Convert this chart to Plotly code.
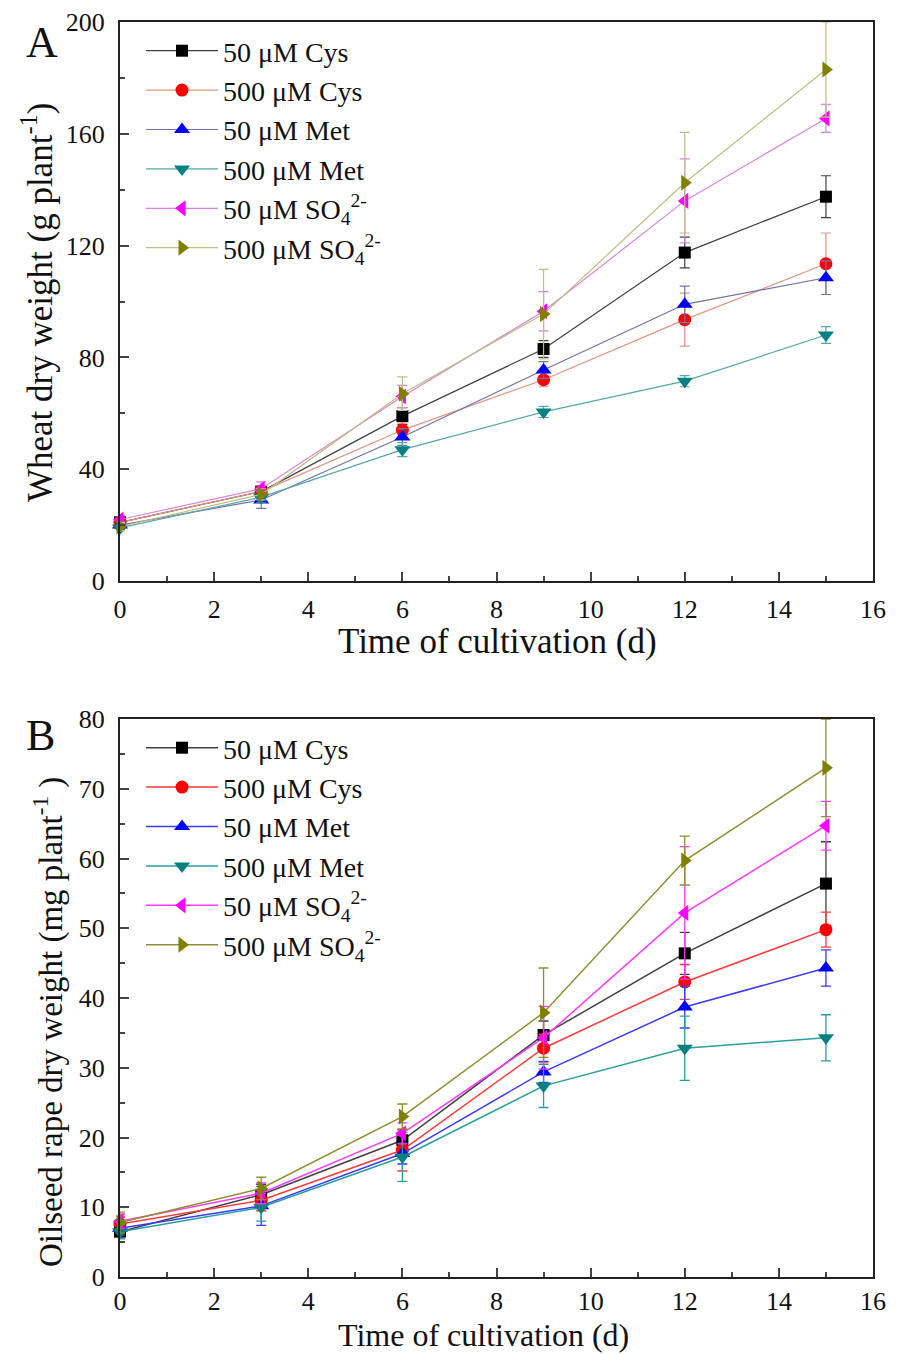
import plotly.graph_objects as go

days = [0, 3, 6, 9, 12, 15]

names = ["50 μM Cys", "500 μM Cys", "50 μM Met", "500 μM Met",
         "50 μM SO<sub>4</sub><sup>2-</sup>", "500 μM SO<sub>4</sub><sup>2-</sup>"]

# Panel A: wheat dry weight (g plant-1)
cys50_A = [21, 32, 59, 83, 117.5, 137.5]
cys50_A_err = [1.5, 2, 3, 3, 5.5, 7.5]
cys500_A = [21, 32, 54, 72, 93.5, 113.5]
cys500_A_err = [1.5, 2, 2.5, 2.5, 9.5, 11]
met50_A = [20, 29, 51.5, 75.5, 99, 108.5]
met50_A_err = [1.5, 3, 3, 3, 6.5, 6]
met500_A = [19, 30, 47, 60.5, 71.5, 88]
met500_A_err = [1, 2, 2.5, 2, 2, 3]
so450_A = [22, 33, 66, 96.5, 136, 165.5]
so450_A_err = [1.5, 2.5, 4, 7, 15, 5]
so4500_A = [19.5, 31, 67, 95.5, 142.5, 183]
so4500_A_err = [1.5, 2, 6, 16, 18, 17]

# Panel B: oilseed rape dry weight (mg plant-1)
cys50_B = [6.5, 11.8, 19.6, 34.7, 46.4, 56.4]
cys50_B_err = [1, 1.5, 1.5, 2, 3, 6]
cys500_B = [7.6, 11.0, 18.2, 32.8, 42.3, 49.8]
cys500_B_err = [1, 1.5, 3, 2, 2.5, 2.5]
met50_B = [7.0, 10.2, 17.7, 29.4, 38.7, 44.3]
met50_B_err = [1, 2.8, 1.5, 1.5, 3, 2.6]
met500_B = [6.5, 10.0, 17.2, 27.4, 32.8, 34.3]
met500_B_err = [1, 2, 3.5, 3.1, 4.6, 3.3]
so450_B = [8.0, 12.0, 20.6, 34.3, 52.2, 64.7]
so450_B_err = [1, 1.5, 1.5, 4.5, 9.5, 3.5]
so4500_B = [7.8, 12.7, 23.0, 37.9, 59.7, 73.0]
so4500_B_err = [1.5, 1.6, 1.8, 6.4, 3.5, 7.0]

series_A = [(cys50_A, cys50_A_err), (cys500_A, cys500_A_err), (met50_A, met50_A_err),
            (met500_A, met500_A_err), (so450_A, so450_A_err), (so4500_A, so4500_A_err)]
series_B = [(cys50_B, cys50_B_err), (cys500_B, cys500_B_err), (met50_B, met50_B_err),
            (met500_B, met500_B_err), (so450_B, so450_B_err), (so4500_B, so4500_B_err)]

symbols = ["square", "circle", "triangle-up", "triangle-down", "triangle-left", "triangle-right"]
marker_colors = ["#000000", "#ff0000", "#0000ff", "#008080", "#ff00ff", "#808000"]
line_colors_A = ["#404040", "#e0957e", "#7272aa", "#55a8a8", "#d884d8", "#bdbd85"]
line_colors_B = ["#404040", "#ff3a3a", "#3a3aff", "#2a9e9e", "#ff3aff", "#8e8e30"]
sizes = [12, 13, 14, 14, 14, 14]

FONT = "Liberation Serif, Times New Roman, serif"

# The page body has an 8px margin: figure is sized to fit the window exactly.
OFF = 8
W, H = 900 - OFF, 1354 - OFF


def px(x):
    return (x - OFF) / W


def py(y):
    return 1 - (y - OFF) / H


fig = go.Figure()

for i, (vals, err) in enumerate(series_A):
    fig.add_trace(go.Scatter(
        x=days, y=vals, name=names[i], mode="lines+markers",
        xaxis="x", yaxis="y", legend="legend",
        line=dict(color=line_colors_A[i], width=1.2),
        marker=dict(symbol=symbols[i], color=marker_colors[i], size=sizes[i]),
        error_y=dict(type="data", array=err, color=line_colors_A[i], thickness=1.2, width=5),
        cliponaxis=False,
    ))

for i, (vals, err) in enumerate(series_B):
    fig.add_trace(go.Scatter(
        x=days, y=vals, name=names[i], mode="lines+markers",
        xaxis="x2", yaxis="y2", legend="legend2",
        line=dict(color=line_colors_B[i], width=1.5),
        marker=dict(symbol=symbols[i], color=marker_colors[i], size=sizes[i]),
        error_y=dict(type="data", array=err, color=line_colors_B[i], thickness=1.3, width=5),
        cliponaxis=False,
    ))

xdom = [px(120), px(873)]
ydomA = [py(581), py(22)]
ydomB = [py(1277), py(719)]

TICKFONT = dict(family=FONT, size=26, color="#111")


def xax(dom, anchor, standoff):
    return dict(domain=dom, anchor=anchor, range=[0, 16], dtick=2, tick0=0, ticks="inside",
                ticklen=9, tickwidth=2, showline=True, linewidth=2, linecolor="#222",
                mirror=True, showgrid=False, zeroline=False, tickfont=TICKFONT,
                automargin=False, ticklabelstandoff=standoff,
                minor=dict(ticks="inside", ticklen=5, tickwidth=1.5, dtick=1, tick0=0,
                           showgrid=False))


def yax(dom, anchor, rng, dt, mdt):
    return dict(domain=dom, anchor=anchor, range=rng, dtick=dt, ticks="inside", ticklen=9,
                tickwidth=2, showline=True, linewidth=2, linecolor="#222", mirror=True,
                showgrid=False, zeroline=False, tickfont=TICKFONT, automargin=False,
                ticklabelstandoff=8,
                minor=dict(ticks="inside", ticklen=5, tickwidth=1.5, dtick=mdt, showgrid=False))


LEGFONT = dict(family=FONT, size=28, color="#111")
TITLEFONT = dict(family=FONT, size=35, color="#111")

fig.update_layout(
    width=W, height=H,
    margin=dict(l=0, r=0, t=0, b=0, autoexpand=False),
    paper_bgcolor="white", plot_bgcolor="white",
    font=dict(family=FONT, color="#111"),
    xaxis=xax(xdom, "y", 4),
    yaxis=yax(ydomA, "x", [0, 200], 40, 20),
    xaxis2=xax(xdom, "y2", 0),
    yaxis2=yax(ydomB, "x2", [0, 80], 10, 5),
    legend=dict(x=px(141), y=py(26), xanchor="left", yanchor="top",
                bgcolor="rgba(0,0,0,0)", font=LEGFONT, itemwidth=72),
    legend2=dict(x=px(141), y=py(723), xanchor="left", yanchor="top",
                 bgcolor="rgba(0,0,0,0)", font=LEGFONT, itemwidth=72),
    showlegend=True,
)

annotations = [
    dict(text="A", x=px(42), y=py(42), font=dict(family=FONT, size=44, color="#111")),
    dict(text="B", x=px(40), y=py(735), font=dict(family=FONT, size=44, color="#111")),
    dict(text="Time of cultivation (d)", x=px(497), y=py(641), font=TITLEFONT),
    dict(text="Time of cultivation (d)", x=px(483), y=py(1335),
         font=dict(family=FONT, size=32, color="#111")),
    dict(text="Wheat dry weight (g plant<sup>-1</sup>)", x=px(37), y=py(303), textangle=-90,
         font=TITLEFONT),
    dict(text="Oilseed rape dry weight (mg plant<sup>-1</sup> )", x=px(48), y=py(1022),
         textangle=-90, font=dict(family=FONT, size=33, color="#111")),
]
for a in annotations:
    a.update(xref="paper", yref="paper", showarrow=False, xanchor="center", yanchor="middle")
fig.update_layout(annotations=annotations)

fig.write_html("out.html")
